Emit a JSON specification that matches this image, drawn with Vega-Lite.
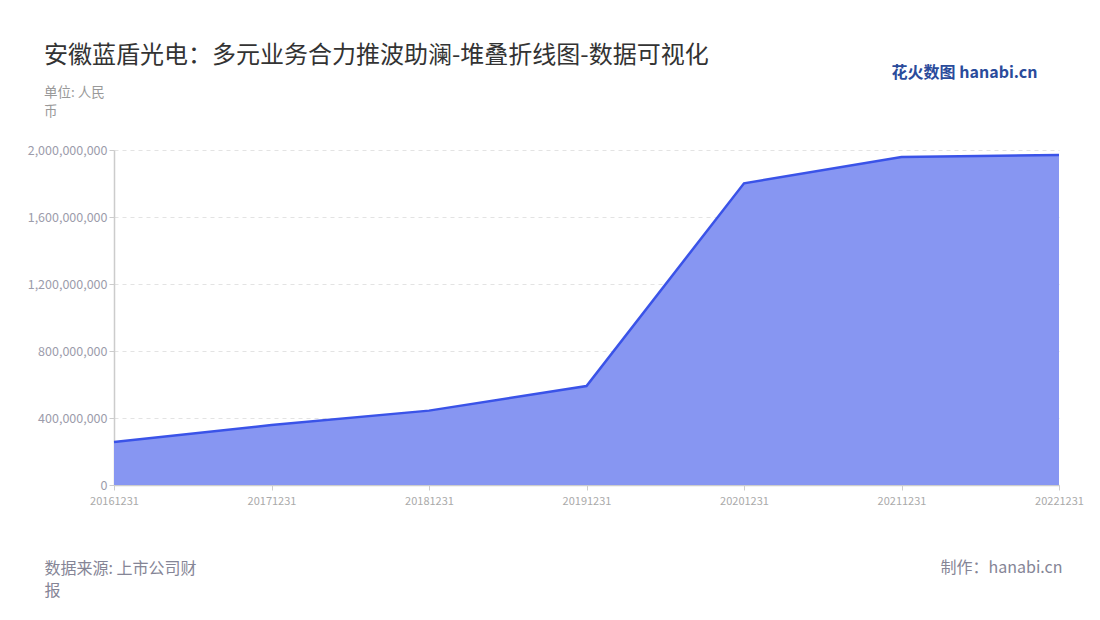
{
  "$schema": "https://vega.github.io/schema/vega-lite/v6.json",
  "autosize": {"type": "none"},
  "width": 945,
  "height": 335,
  "padding": {"left": 114, "top": 150, "right": 41, "bottom": 135},
  "background": "white",
  "config": {"font": "Noto Sans CJK SC", "view": {"stroke": null}},
  "title": {
    "text": "安徽蓝盾光电：多元业务合力推波助澜-堆叠折线图-数据可视化",
    "subtitle": ["单位: 人民", "币"],
    "anchor": "start",
    "frame": "group",
    "dx": -70,
    "dy": 84,
    "fontSize": 24,
    "fontWeight": "normal",
    "color": "#333333",
    "subtitleFontSize": 13.5,
    "subtitleColor": "#999999",
    "subtitlePadding": 18,
    "subtitleLineHeight": 18.5,
    "offset": 30
  },
  "data": {
    "values": [
      {"date": "20161231", "value": 257000000},
      {"date": "20171231", "value": 358000000},
      {"date": "20181231", "value": 444000000},
      {"date": "20191231", "value": 591000000},
      {"date": "20201231", "value": 1801000000},
      {"date": "20211231", "value": 1958000000},
      {"date": "20221231", "value": 1970000000}
    ]
  },
  "encoding": {
    "x": {
      "field": "date",
      "type": "ordinal",
      "scale": {"type": "point", "padding": 0},
      "axis": {
        "labelAngle": 0,
        "labelColor": "#aaaaaa",
        "labelFontSize": 11,
        "labelPadding": 5,
        "tickColor": "#cccccc",
        "tickSize": 5,
        "domainColor": "#cccccc",
        "domainWidth": 1.5,
        "grid": false,
        "title": "制作：hanabi.cn",
        "titleX": 948,
        "titleY": 82,
        "titleAlign": "right",
        "titleBaseline": "middle",
        "titleAnchor": null,
        "titleFontSize": 16,
        "titleFontWeight": "normal",
        "titleColor": "#858596"
      }
    }
  },
  "layer": [
    {
      "mark": {"type": "area", "color": "#8796f2", "opacity": 1},
      "encoding": {
        "y": {
          "field": "value",
          "type": "quantitative",
          "scale": {"domain": [0, 2000000000]},
          "axis": {
            "values": [0, 400000000, 800000000, 1200000000, 1600000000, 2000000000],
            "format": ",d",
            "labelColor": "#9c9cab",
            "labelFontSize": 12.5,
            "tickColor": "#cccccc",
            "tickSize": 5,
            "domainColor": "#cccccc",
            "domainWidth": 1.5,
            "gridColor": "#e3e3e3",
            "gridDash": [4, 4],
            "title": ["数据来源: 上市公司财", "报"],
            "titleAngle": 0,
            "titleX": -70,
            "titleY": 418,
            "titleAlign": "left",
            "titleBaseline": "middle",
            "titleAnchor": null,
            "titleLineHeight": 22.5,
            "titleFontSize": 16,
            "titleFontWeight": "normal",
            "titleColor": "#858596"
          }
        }
      }
    },
    {
      "mark": {"type": "line", "color": "#3a53e8", "strokeWidth": 2.5},
      "encoding": {
        "y": {
          "field": "value",
          "type": "quantitative",
          "axis": {
            "orient": "right",
            "labels": false,
            "ticks": false,
            "domain": false,
            "grid": false,
            "title": "花火数图 hanabi.cn",
            "titleAngle": 0,
            "titleX": -22,
            "titleY": -78,
            "titleAlign": "right",
            "titleBaseline": "middle",
            "titleAnchor": null,
            "titleFontSize": 16,
            "titleFontWeight": "bold",
            "titleColor": "#2a4b9b"
          }
        }
      }
    }
  ],
  "resolve": {"axis": {"y": "independent"}}
}
